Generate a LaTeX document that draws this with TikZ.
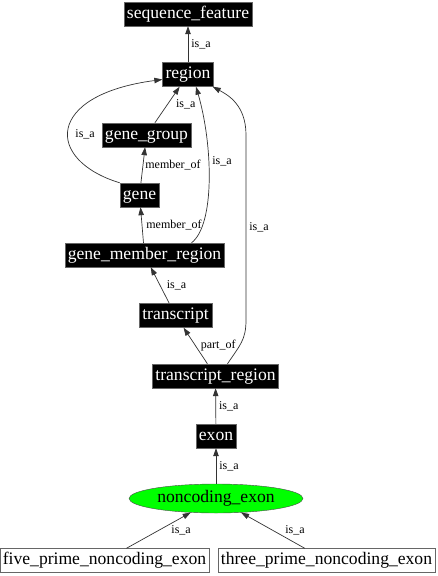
\documentclass[tikz,border=0pt]{standalone}
\usepackage{fontspec}
\setmainfont{Liberation Serif}
\usetikzlibrary{arrows.meta,shapes.geometric}

\begin{document}
\begin{tikzpicture}[x=1pt,y=-1pt,
    term/.style={draw=black!60,fill=black,text=white,font=\fontsize{17.6}{20}\selectfont,inner xsep=3pt,inner ysep=0pt,text height=12pt,text depth=4pt,minimum height=24pt},
    leaf/.style={term,fill=white,text=black},
    focus/.style={ellipse,draw=black!70,fill=green,font=\fontsize{17.6}{20}\selectfont,inner sep=0pt,minimum width=174pt,minimum height=29pt},
    rel/.style={font=\fontsize{12}{14}\selectfont,inner sep=1pt,anchor=west},
    conn/.style={draw=black!80,line width=0.7pt,-{Triangle[length=8pt,width=5.5pt]}}]
    \useasboundingbox (0,0) rectangle (438,576);
    \node[term] (seqf) at (188,14) {sequence\_feature};
    \node[term] (region) at (188,74.5) {region};
    \node[term] (ggroup) at (146.5,135) {gene\_group};
    \node[term] (gene) at (139.5,195) {gene};
    \node[term] (gmr) at (144.5,255) {gene\_member\_region};
    \node[term] (tscript) at (175.5,315.5) {transcript};
    \node[term] (tregion) at (215.5,376) {transcript\_region};
    \node[term] (exon) at (216,436) {exon};
    \node[focus] (ncexon) at (216,498.5) {noncoding\_exon};
    \node[leaf] (fivep) at (104.5,560.5) {five\_prime\_noncoding\_exon};
    \node[leaf] (threep) at (326.5,560.5) {three\_prime\_noncoding\_exon};
    \draw[conn] (region) -- (seqf) node[rel,pos=.5,xshift=2pt] {is\_a};
    \draw[conn] (ggroup) -- (region) node[rel,pos=.5,xshift=7.5pt] {is\_a};
    \draw[conn] (gene) -- (ggroup) node[rel,pos=.5,xshift=1pt] {member\_of};
    \draw[conn] (gene.north west) .. controls (45,160) and (45,95) .. ([yshift=-5pt]region.west) node[rel,pos=.45,xshift=6pt] {is\_a};
    \draw[conn] (gmr) -- (gene) node[rel,pos=.5,xshift=3pt] {member\_of};
    \draw[conn] ([xshift=47pt]gmr.north) .. controls (215,225) and (213,145) .. ([xshift=8pt]region.south) node[rel,pos=.6,xshift=2.5pt] {is\_a};
    \draw[conn] (tscript) -- (gmr) node[rel,pos=.5,xshift=5.5pt] {is\_a};
    \draw[conn] (tregion) -- (tscript) node[rel,pos=.5,xshift=4pt] {part\_of};
    \draw[conn] ([xshift=12pt]tregion.north) .. controls (240,345) and (246,340) .. (246,320) -- (246,135) node[rel,pos=.5,xshift=2pt] {is\_a} .. controls (246,105) and (228,95) .. ([xshift=-1pt]region.south east);
    \draw[conn] (exon) -- (tregion) node[rel,pos=.5,xshift=2pt] {is\_a};
    \draw[conn] (ncexon) -- (exon) node[rel,pos=.5,xshift=2pt] {is\_a};
    \draw[conn] (fivep) -- (ncexon) node[rel,pos=.5,xshift=11.5pt] {is\_a};
    \draw[conn] (threep) -- (ncexon) node[rel,pos=.5,xshift=11pt] {is\_a};
\end{tikzpicture}
\end{document}
